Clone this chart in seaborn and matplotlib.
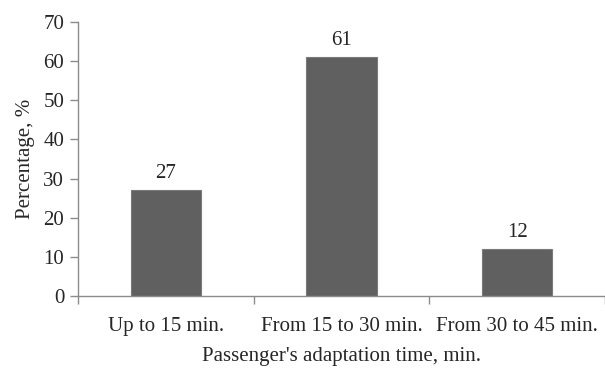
import matplotlib
matplotlib.use("Agg")
import matplotlib.pyplot as plt
import seaborn as sns
import pandas as pd

categories = ["Up to 15 min.", "From 15 to 30 min.", "From 30 to 45 min."]
percent = [27, 61, 12]
y_ticks = [0, 10, 20, 30, 40, 50, 60, 70]

df = pd.DataFrame({"time": categories, "pct": percent})

sns.set_style("white")
plt.rcParams["font.family"] = ["Liberation Serif", "DejaVu Serif"]

fig = plt.figure(figsize=(6.05, 3.69), dpi=100)
ax = fig.add_axes([0.129, 0.198, 0.871, 0.742])

sns.barplot(data=df, x="time", y="pct", color="#606060", width=0.4,
            edgecolor="#7a7a7a", linewidth=0.8, saturation=1, ax=ax)

for i, v in enumerate(percent):
    ax.annotate(str(v), (i, v), xytext=(0, 5), textcoords="offset points",
                ha="center", va="bottom", fontsize=15)

ax.set_ylim(0, 70)
ax.set_yticks(y_ticks)
ax.set_xlim(-0.5, 2.478)

# ticks between categories, labels centred under bars
ax.set_xticks([-0.5, 0.5, 1.5, 2.5])
ax.set_xticklabels([])
ax.set_xticks([0, 1, 2], minor=True)
ax.set_xticklabels(categories, minor=True, fontsize=15)
ax.tick_params(axis="x", which="minor", length=0, pad=15)
ax.tick_params(axis="x", which="major", length=6, color="#8c8c8c", width=1)
ax.tick_params(axis="y", length=6, color="#8c8c8c", width=1, labelsize=15, pad=4)
ax.tick_params(axis="both", left=True, bottom=True)

for s in ["top", "right"]:
    ax.spines[s].set_visible(False)
for s in ["left", "bottom"]:
    ax.spines[s].set_color("#8c8c8c")
    ax.spines[s].set_linewidth(1)

ax.set_xlabel("Passenger's adaptation time, min.", fontsize=15, labelpad=8)
ax.set_ylabel("Percentage, %", fontsize=15, labelpad=6)

fig.savefig("out.png", dpi=100)
